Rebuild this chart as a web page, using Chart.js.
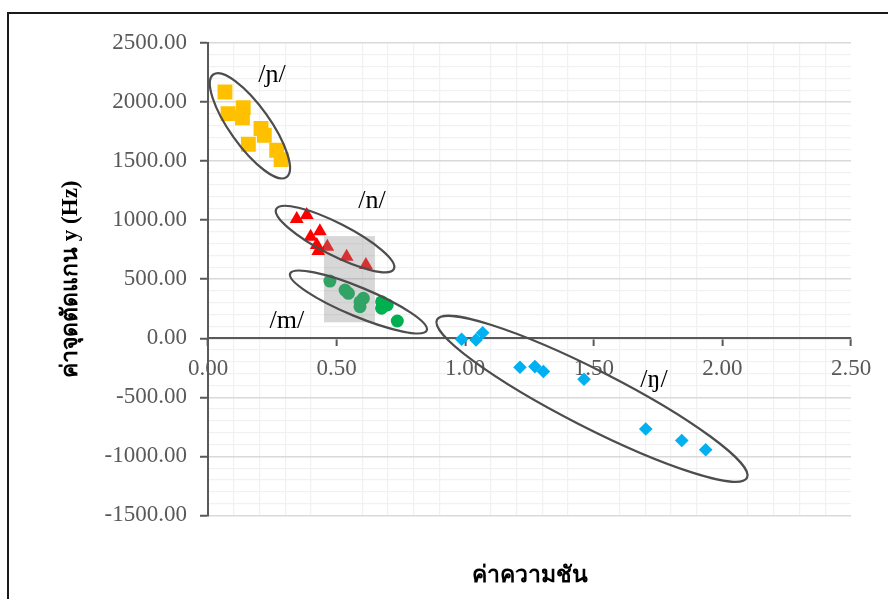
<!DOCTYPE html>
<html>
<head>
<meta charset="utf-8">
<style>
  html, body { margin: 0; padding: 0; background: #ffffff; overflow: hidden; }
  #wrap { position: relative; width: 888px; height: 599px; }
</style>
<script src="https://cdn.jsdelivr.net/npm/chart.js@4.4.1/dist/chart.umd.min.js"></script>
</head>
<body>
<div id="wrap"><canvas id="chart" width="888" height="599"></canvas></div>
<script>
// Slope (x) and y-intercept in Hz (y) for each nasal consonant group
const palatalX  = [0.066, 0.078, 0.137, 0.134, 0.157, 0.206, 0.219, 0.267, 0.284];
const palatalY  = [2085, 1902, 1953, 1867, 1643, 1776, 1719, 1592, 1513];
const alveolarX = [0.345, 0.384, 0.399, 0.435, 0.423, 0.429, 0.464, 0.539, 0.614];
const alveolarY = [1009, 1043, 859, 907, 789, 738, 774, 690, 620];
const bilabialX = [0.474, 0.533, 0.546, 0.591, 0.604, 0.591, 0.675, 0.697, 0.675, 0.736];
const bilabialY = [484, 408, 380, 309, 338, 267, 309, 282, 254, 146];
const velarX    = [0.986, 1.042, 1.068, 1.213, 1.271, 1.304, 1.462, 1.702, 1.842, 1.935];
const velarY    = [-8, -14, 47, -245, -240, -282, -347, -769, -866, -944];

// Axis ranges and steps (minor grid step, labelled major step)
const xMin = 0, xMax = 2.5, xMinorStep = 0.1, xMajorStep = 0.5;
const yMin = -1500, yMax = 2500, yMinorStep = 100, yMajorStep = 500;

const xTitle = 'ค่าความชัน';
const yTitle = 'ค่าจุดตัดแกน y (Hz)';

// Group labels and the outlines around each group (centre in data units)
const groupLabels = ['/ɲ/', '/n/', '/m/', '/ŋ/'];
const groupLabelX = [0.249, 0.638, 0.307, 1.734];
const groupLabelY = [2226, 1161, 146, -353];
const ringCenterX = [0.163, 0.494, 0.585, 1.493];
const ringCenterY = [1799, 840, 307, -513];
const ringShape = [
  { rx: 63, ry: 20, angle: 54.5 },
  { rx: 66, ry: 16, angle: 27 },
  { rx: 74, ry: 14.5, angle: 22.6 },
  { rx: 174, ry: 28.5, angle: 27 }
];
// Shaded overlap band between /n/ and /m/
const bandX = [0.451, 0.649];
const bandY = [135, 865];

const toPoints = (xs, ys) => xs.map((x, i) => ({ x: x, y: ys[i] }));
const isMajor = (v, step) => Math.abs(v / step - Math.round(v / step)) < 1e-6;

const SERIF = "'Liberation Serif', 'Times New Roman', serif";

const decorations = {
  id: 'decorations',
  beforeDraw(chart) {
    const ctx = chart.ctx;
    ctx.save();
    ctx.strokeStyle = '#1a1a1a';
    ctx.lineWidth = 2;
    ctx.beginPath();
    ctx.moveTo(8, 610);
    ctx.lineTo(8, 13);
    ctx.lineTo(900, 13);
    ctx.stroke();
    ctx.restore();
  },
  afterDatasetsDraw(chart) {
    const ctx = chart.ctx;
    const xs = chart.scales.x, ys = chart.scales.y;
    ctx.save();
    // translucent band
    const bx0 = xs.getPixelForValue(bandX[0]), bx1 = xs.getPixelForValue(bandX[1]);
    const by0 = ys.getPixelForValue(bandY[1]), by1 = ys.getPixelForValue(bandY[0]);
    ctx.fillStyle = 'rgba(140,140,140,0.35)';
    ctx.fillRect(bx0, by0, bx1 - bx0, by1 - by0);
    // outlines
    ctx.strokeStyle = '#4d4d4d';
    ctx.lineWidth = 2.25;
    ringShape.forEach((s, i) => {
      const cx = xs.getPixelForValue(ringCenterX[i]);
      const cy = ys.getPixelForValue(ringCenterY[i]);
      ctx.beginPath();
      ctx.ellipse(cx, cy, s.rx, s.ry, s.angle * Math.PI / 180, 0, Math.PI * 2);
      ctx.stroke();
    });
    // group labels
    ctx.fillStyle = '#000000';
    ctx.font = '26px ' + SERIF;
    ctx.textAlign = 'center';
    ctx.textBaseline = 'middle';
    groupLabels.forEach((t, i) => {
      ctx.fillText(t, xs.getPixelForValue(groupLabelX[i]), ys.getPixelForValue(groupLabelY[i]));
    });
    ctx.restore();
  }
};

new Chart(document.getElementById('chart'), {
  type: 'scatter',
  data: {
    datasets: [
      { label: '/ɲ/', data: toPoints(palatalX, palatalY), pointStyle: 'rect', pointRadius: 10.5,
        backgroundColor: '#ffc000', borderColor: '#ffc000', borderWidth: 0 },
      { label: '/n/', data: toPoints(alveolarX, alveolarY), pointStyle: 'triangle', pointRadius: 8,
        backgroundColor: '#ff0000', borderColor: '#ff0000', borderWidth: 0 },
      { label: '/m/', data: toPoints(bilabialX, bilabialY), pointStyle: 'circle', pointRadius: 6.5,
        backgroundColor: '#00b050', borderColor: '#00b050', borderWidth: 0 },
      { label: '/ŋ/', data: toPoints(velarX, velarY), pointStyle: 'rectRot', pointRadius: 6.8,
        backgroundColor: '#00b0f0', borderColor: '#00b0f0', borderWidth: 0 }
    ]
  },
  options: {
    responsive: false,
    animation: false,
    events: [],
    layout: { padding: { top: 43, left: 57, right: 37, bottom: 9 } },
    plugins: {
      legend: { display: false },
      tooltip: { enabled: false },
      title: {
        display: true,
        text: xTitle,
        position: 'bottom',
        fullSize: false,
        color: '#000000',
        font: { family: SERIF, size: 23, weight: 'bold' },
        padding: { top: 47, bottom: 0 }
      }
    },
    scales: {
      x: {
        type: 'linear',
        position: { y: 0 },
        min: xMin, max: xMax,
        afterFit: (s) => { s.height = 0; },
        border: { color: '#595959', width: 2 },
        grid: {
          drawTicks: true,
          tickLength: 7,
          color: (c) => isMajor(c.tick.value, xMajorStep) ? 'rgba(0,0,0,0)' : '#f1f1f1',
          lineWidth: 1.25,
          tickColor: (c) => isMajor(c.tick.value, xMajorStep) ? '#595959' : 'rgba(0,0,0,0)',
          tickWidth: 2
        },
        ticks: {
          stepSize: xMinorStep,
          autoSkip: false,
          maxRotation: 0,
          padding: 10,
          color: '#595959',
          font: { family: SERIF, size: 23 },
          callback: (v) => isMajor(v, xMajorStep) ? Number(v).toFixed(2) : ''
        }
      },
      y: {
        type: 'linear',
        position: 'left',
        min: yMin, max: yMax,
        afterFit: (s) => { s.width = 151; },
        border: { color: '#595959', width: 2 },
        grid: {
          drawTicks: true,
          tickLength: 8,
          color: (c) => isMajor(c.tick.value, yMajorStep) ? '#d9d9d9' : '#f1f1f1',
          lineWidth: (c) => isMajor(c.tick.value, yMajorStep) ? 1.5 : 1.25,
          tickColor: (c) => isMajor(c.tick.value, yMajorStep) ? '#595959' : 'rgba(0,0,0,0)',
          tickWidth: 2
        },
        ticks: {
          stepSize: yMinorStep,
          autoSkip: false,
          padding: 13,
          color: '#595959',
          font: { family: SERIF, size: 23 },
          callback: (v) => isMajor(v, yMajorStep) ? Number(v).toFixed(2) : ''
        },
        title: {
          display: true,
          text: yTitle,
          color: '#000000',
          font: { family: SERIF, size: 23, weight: 'bold' },
          padding: { top: 0, bottom: 0 }
        }
      }
    }
  },
  plugins: [decorations]
});
</script>
</body>
</html>
